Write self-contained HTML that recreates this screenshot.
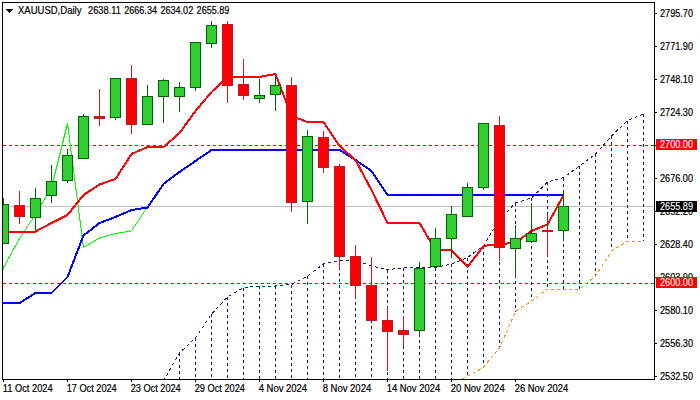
<!DOCTYPE html><html><head><meta charset="utf-8"><style>
html,body{margin:0;padding:0;background:#fff;}
body{width:700px;height:400px;position:relative;overflow:hidden;}
text{font-family:"Liberation Sans",sans-serif;font-size:10px;fill:#000;stroke:#000;stroke-width:0.2px;}
</style></head><body>
<svg width="700" height="400" viewBox="0 0 700 400" style="position:absolute;left:0;top:0">
<defs><clipPath id="cp"><rect x="3" y="3" width="651" height="376"/></clipPath></defs>
<g clip-path="url(#cp)" shape-rendering="crispEdges" fill="none">
<line x1="3" y1="206.5" x2="654" y2="206.5" stroke="#c0c0c0" stroke-width="1"/>
<line x1="3" y1="145.5" x2="654" y2="145.5" stroke="#ff0000" stroke-width="1" stroke-dasharray="3 3"/>
<line x1="3" y1="283.5" x2="654" y2="283.5" stroke="#ff0000" stroke-width="1" stroke-dasharray="3 3"/>
<line x1="163.5" y1="381" x2="163.5" y2="400" stroke="#191970" stroke-width="1" stroke-dasharray="3 3"/>
<line x1="179.5" y1="353" x2="179.5" y2="400" stroke="#191970" stroke-width="1" stroke-dasharray="3 3"/>
<line x1="195.5" y1="338" x2="195.5" y2="400" stroke="#191970" stroke-width="1" stroke-dasharray="3 3"/>
<line x1="211.5" y1="314" x2="211.5" y2="400" stroke="#191970" stroke-width="1" stroke-dasharray="3 3"/>
<line x1="227.5" y1="297" x2="227.5" y2="400" stroke="#191970" stroke-width="1" stroke-dasharray="3 3"/>
<line x1="243.5" y1="287.5" x2="243.5" y2="400" stroke="#191970" stroke-width="1" stroke-dasharray="3 3"/>
<line x1="259.5" y1="286" x2="259.5" y2="400" stroke="#191970" stroke-width="1" stroke-dasharray="3 3"/>
<line x1="275.5" y1="286" x2="275.5" y2="400" stroke="#191970" stroke-width="1" stroke-dasharray="3 3"/>
<line x1="291.5" y1="284.5" x2="291.5" y2="400" stroke="#191970" stroke-width="1" stroke-dasharray="3 3"/>
<line x1="307.5" y1="276" x2="307.5" y2="400" stroke="#191970" stroke-width="1" stroke-dasharray="3 3"/>
<line x1="323.5" y1="264" x2="323.5" y2="400" stroke="#191970" stroke-width="1" stroke-dasharray="3 3"/>
<line x1="339.5" y1="260.5" x2="339.5" y2="400" stroke="#191970" stroke-width="1" stroke-dasharray="3 3"/>
<line x1="355.5" y1="260" x2="355.5" y2="400" stroke="#191970" stroke-width="1" stroke-dasharray="3 3"/>
<line x1="371.5" y1="266" x2="371.5" y2="400" stroke="#191970" stroke-width="1" stroke-dasharray="3 3"/>
<line x1="387.5" y1="269.5" x2="387.5" y2="400" stroke="#191970" stroke-width="1" stroke-dasharray="3 3"/>
<line x1="403.5" y1="268" x2="403.5" y2="400" stroke="#191970" stroke-width="1" stroke-dasharray="3 3"/>
<line x1="419.5" y1="267.5" x2="419.5" y2="400" stroke="#191970" stroke-width="1" stroke-dasharray="3 3"/>
<line x1="435.5" y1="267.5" x2="435.5" y2="400" stroke="#191970" stroke-width="1" stroke-dasharray="3 3"/>
<line x1="451.5" y1="264" x2="451.5" y2="384" stroke="#191970" stroke-width="1" stroke-dasharray="3 3"/>
<line x1="467.5" y1="257.5" x2="467.5" y2="376.5" stroke="#191970" stroke-width="1" stroke-dasharray="3 3"/>
<line x1="483.5" y1="245.5" x2="483.5" y2="367" stroke="#191970" stroke-width="1" stroke-dasharray="3 3"/>
<line x1="499.5" y1="220" x2="499.5" y2="348" stroke="#191970" stroke-width="1" stroke-dasharray="3 3"/>
<line x1="515.5" y1="203" x2="515.5" y2="311.5" stroke="#191970" stroke-width="1" stroke-dasharray="3 3"/>
<line x1="531.5" y1="198" x2="531.5" y2="301" stroke="#191970" stroke-width="1" stroke-dasharray="3 3"/>
<line x1="547.5" y1="182" x2="547.5" y2="289" stroke="#191970" stroke-width="1" stroke-dasharray="3 3"/>
<line x1="563.5" y1="177.5" x2="563.5" y2="289" stroke="#191970" stroke-width="1" stroke-dasharray="3 3"/>
<line x1="579.5" y1="166" x2="579.5" y2="289" stroke="#191970" stroke-width="1" stroke-dasharray="3 3"/>
<line x1="595.5" y1="154" x2="595.5" y2="276" stroke="#191970" stroke-width="1" stroke-dasharray="3 3"/>
<line x1="611.5" y1="136" x2="611.5" y2="251" stroke="#191970" stroke-width="1" stroke-dasharray="3 3"/>
<line x1="627.5" y1="120.5" x2="627.5" y2="241" stroke="#191970" stroke-width="1" stroke-dasharray="3 3"/>
<line x1="643.5" y1="114" x2="643.5" y2="241" stroke="#191970" stroke-width="1" stroke-dasharray="3 3"/>
<polyline points="163.5,381 179.5,353 195.5,338 211.5,314 227.5,297 243.5,287.5 259.5,286 275.5,286 291.5,284.5 307.5,276 323.5,264 339.5,260.5 355.5,260 371.5,266 387.5,269.5 403.5,268 419.5,267.5 435.5,267.5 451.5,264 467.5,257.5 483.5,245.5 499.5,220 515.5,203 531.5,198 547.5,182 563.5,177.5 579.5,166 595.5,154 611.5,136 627.5,120.5 643.5,114" stroke="#191970" stroke-width="1" stroke-dasharray="3 3" stroke-linejoin="round"/>
<polyline points="451.5,384 467.5,376.5 483.5,367 499.5,348 515.5,311.5 531.5,301 547.5,289 563.5,289 579.5,289 595.5,276 611.5,251 627.5,241 643.5,241" stroke="#ff8c00" stroke-width="1" stroke-dasharray="3 3" stroke-linejoin="round"/>
<polyline points="-12.5,334 3.5,267.5 19.5,238.5 35.5,214.5 51.5,187.5 67.5,123.5 83.5,247.5 99.5,238 115.5,233.5 131.5,231 147.5,207" stroke="#00ff00" stroke-width="1" stroke-linejoin="round"/>
<polyline points="-12.5,303 3.5,303 19.5,303 35.5,293 51.5,293 67.5,277 83.5,235.5 99.5,223 115.5,217 131.5,210 147.5,207.5 163.5,184 179.5,172 195.5,161 211.5,150 227.5,150 243.5,150 259.5,150 275.5,150 291.5,150 307.5,150 323.5,150 339.5,150 355.5,160 371.5,171 387.5,195 403.5,195 419.5,195 435.5,195 451.5,195 467.5,195 483.5,195 499.5,195 515.5,195 531.5,195 547.5,195 563.5,195" stroke="#0000ff" stroke-width="2" stroke-linejoin="round"/>
<polyline points="-12.5,231.5 3.5,231.5 19.5,231.5 35.5,231.5 51.5,223 67.5,215 83.5,195 99.5,184.5 115.5,179 131.5,154 147.5,147 163.5,147 179.5,133 195.5,111 211.5,92 227.5,77 243.5,77 259.5,77 275.5,74 291.5,116 307.5,122 323.5,122 339.5,146 355.5,160 371.5,190 387.5,223 403.5,223 419.5,223 435.5,250 451.5,250 467.5,267 483.5,246 499.5,244 515.5,243 531.5,231 547.5,224.5 563.5,195.5" stroke="#ff0000" stroke-width="2" stroke-linejoin="round"/>
<rect x="3" y="198" width="1" height="46" fill="#006400"/>
<rect x="-2" y="204" width="11" height="40" fill="#006400"/>
<rect x="-1" y="205" width="9" height="38" fill="#32cd32"/>
<rect x="19" y="191" width="1" height="33" fill="#b81c28"/>
<rect x="14" y="205" width="11" height="12" fill="#b81c28"/>
<rect x="15" y="206" width="9" height="10" fill="#ff0000"/>
<rect x="35" y="188" width="1" height="43" fill="#006400"/>
<rect x="30" y="198" width="11" height="20" fill="#006400"/>
<rect x="31" y="199" width="9" height="18" fill="#32cd32"/>
<rect x="51" y="165" width="1" height="38" fill="#006400"/>
<rect x="46" y="181" width="11" height="15" fill="#006400"/>
<rect x="47" y="182" width="9" height="13" fill="#32cd32"/>
<rect x="67" y="149" width="1" height="34" fill="#006400"/>
<rect x="62" y="155" width="11" height="26" fill="#006400"/>
<rect x="63" y="156" width="9" height="24" fill="#32cd32"/>
<rect x="83" y="114" width="1" height="45" fill="#006400"/>
<rect x="78" y="116" width="11" height="43" fill="#006400"/>
<rect x="79" y="117" width="9" height="41" fill="#32cd32"/>
<rect x="99" y="89" width="1" height="37" fill="#b81c28"/>
<rect x="94" y="116" width="11" height="3" fill="#b81c28"/>
<rect x="95" y="117" width="9" height="1" fill="#ff0000"/>
<rect x="115" y="78" width="1" height="42" fill="#006400"/>
<rect x="110" y="78" width="11" height="40" fill="#006400"/>
<rect x="111" y="79" width="9" height="38" fill="#32cd32"/>
<rect x="131" y="65" width="1" height="69" fill="#b81c28"/>
<rect x="126" y="78" width="11" height="47" fill="#b81c28"/>
<rect x="127" y="79" width="9" height="45" fill="#ff0000"/>
<rect x="147" y="85" width="1" height="40" fill="#006400"/>
<rect x="142" y="96" width="11" height="29" fill="#006400"/>
<rect x="143" y="97" width="9" height="27" fill="#32cd32"/>
<rect x="163" y="79" width="1" height="44" fill="#006400"/>
<rect x="158" y="80" width="11" height="17" fill="#006400"/>
<rect x="159" y="81" width="9" height="15" fill="#32cd32"/>
<rect x="179" y="82" width="1" height="30" fill="#006400"/>
<rect x="174" y="87" width="11" height="10" fill="#006400"/>
<rect x="175" y="88" width="9" height="8" fill="#32cd32"/>
<rect x="195" y="42" width="1" height="49" fill="#006400"/>
<rect x="190" y="42" width="11" height="46" fill="#006400"/>
<rect x="191" y="43" width="9" height="44" fill="#32cd32"/>
<rect x="211" y="21" width="1" height="27" fill="#006400"/>
<rect x="206" y="25" width="11" height="19" fill="#006400"/>
<rect x="207" y="26" width="9" height="17" fill="#32cd32"/>
<rect x="227" y="21" width="1" height="82" fill="#b81c28"/>
<rect x="222" y="24" width="11" height="62" fill="#b81c28"/>
<rect x="223" y="25" width="9" height="60" fill="#ff0000"/>
<rect x="243" y="59" width="1" height="41" fill="#b81c28"/>
<rect x="238" y="84" width="11" height="12" fill="#b81c28"/>
<rect x="239" y="85" width="9" height="10" fill="#ff0000"/>
<rect x="259" y="79" width="1" height="24" fill="#006400"/>
<rect x="254" y="95" width="11" height="4" fill="#006400"/>
<rect x="255" y="96" width="9" height="2" fill="#32cd32"/>
<rect x="275" y="75" width="1" height="36" fill="#006400"/>
<rect x="270" y="85" width="11" height="10" fill="#006400"/>
<rect x="271" y="86" width="9" height="8" fill="#32cd32"/>
<rect x="291" y="77" width="1" height="135" fill="#b81c28"/>
<rect x="286" y="85" width="11" height="118" fill="#b81c28"/>
<rect x="287" y="86" width="9" height="116" fill="#ff0000"/>
<rect x="307" y="130" width="1" height="94" fill="#006400"/>
<rect x="302" y="136" width="11" height="66" fill="#006400"/>
<rect x="303" y="137" width="9" height="64" fill="#32cd32"/>
<rect x="323" y="131" width="1" height="42" fill="#b81c28"/>
<rect x="318" y="137" width="11" height="31" fill="#b81c28"/>
<rect x="319" y="138" width="9" height="29" fill="#ff0000"/>
<rect x="339" y="164" width="1" height="105" fill="#b81c28"/>
<rect x="334" y="166" width="11" height="91" fill="#b81c28"/>
<rect x="335" y="167" width="9" height="89" fill="#ff0000"/>
<rect x="355" y="245" width="1" height="53" fill="#b81c28"/>
<rect x="350" y="256" width="11" height="30" fill="#b81c28"/>
<rect x="351" y="257" width="9" height="28" fill="#ff0000"/>
<rect x="371" y="257" width="1" height="64" fill="#b81c28"/>
<rect x="366" y="285" width="11" height="36" fill="#b81c28"/>
<rect x="367" y="286" width="9" height="34" fill="#ff0000"/>
<rect x="387" y="307" width="1" height="64" fill="#b81c28"/>
<rect x="382" y="320" width="11" height="12" fill="#b81c28"/>
<rect x="383" y="321" width="9" height="10" fill="#ff0000"/>
<rect x="403" y="316" width="1" height="30" fill="#b81c28"/>
<rect x="398" y="330" width="11" height="5" fill="#b81c28"/>
<rect x="399" y="331" width="9" height="3" fill="#ff0000"/>
<rect x="419" y="262" width="1" height="74" fill="#006400"/>
<rect x="414" y="268" width="11" height="63" fill="#006400"/>
<rect x="415" y="269" width="9" height="61" fill="#32cd32"/>
<rect x="435" y="228" width="1" height="42" fill="#006400"/>
<rect x="430" y="238" width="11" height="29" fill="#006400"/>
<rect x="431" y="239" width="9" height="27" fill="#32cd32"/>
<rect x="451" y="206" width="1" height="52" fill="#006400"/>
<rect x="446" y="214" width="11" height="25" fill="#006400"/>
<rect x="447" y="215" width="9" height="23" fill="#32cd32"/>
<rect x="467" y="183" width="1" height="34" fill="#006400"/>
<rect x="462" y="187" width="11" height="30" fill="#006400"/>
<rect x="463" y="188" width="9" height="28" fill="#32cd32"/>
<rect x="483" y="123" width="1" height="67" fill="#006400"/>
<rect x="478" y="123" width="11" height="65" fill="#006400"/>
<rect x="479" y="124" width="9" height="63" fill="#32cd32"/>
<rect x="499" y="116" width="1" height="145" fill="#b81c28"/>
<rect x="494" y="125" width="11" height="123" fill="#b81c28"/>
<rect x="495" y="126" width="9" height="121" fill="#ff0000"/>
<rect x="515" y="225" width="1" height="52" fill="#006400"/>
<rect x="510" y="238" width="11" height="11" fill="#006400"/>
<rect x="511" y="239" width="9" height="9" fill="#32cd32"/>
<rect x="531" y="203" width="1" height="39" fill="#006400"/>
<rect x="526" y="233" width="11" height="9" fill="#006400"/>
<rect x="527" y="234" width="9" height="7" fill="#32cd32"/>
<rect x="547" y="213" width="1" height="43" fill="#b81c28"/>
<rect x="542" y="230" width="11" height="2" fill="#b81c28"/>
<rect x="563" y="191" width="1" height="48" fill="#006400"/>
<rect x="558" y="206" width="11" height="25" fill="#006400"/>
<rect x="559" y="207" width="9" height="23" fill="#32cd32"/>
</g>
<g shape-rendering="crispEdges" fill="#000">
<rect x="2" y="2" width="653" height="1"/>
<rect x="2" y="2" width="1" height="378"/>
<rect x="654" y="2" width="1" height="378"/>
<rect x="2" y="379" width="653" height="1"/>
<rect x="3" y="380" width="1" height="2"/>
<rect x="67" y="380" width="1" height="2"/>
<rect x="131" y="380" width="1" height="2"/>
<rect x="195" y="380" width="1" height="2"/>
<rect x="259" y="380" width="1" height="2"/>
<rect x="323" y="380" width="1" height="2"/>
<rect x="387" y="380" width="1" height="2"/>
<rect x="451" y="380" width="1" height="2"/>
<rect x="515" y="380" width="1" height="2"/>
<rect x="655" y="13" width="2" height="1"/>
<rect x="655" y="46" width="2" height="1"/>
<rect x="655" y="79" width="2" height="1"/>
<rect x="655" y="112" width="2" height="1"/>
<rect x="655" y="145" width="2" height="1"/>
<rect x="655" y="178" width="2" height="1"/>
<rect x="655" y="211" width="2" height="1"/>
<rect x="655" y="244" width="2" height="1"/>
<rect x="655" y="277" width="2" height="1"/>
<rect x="655" y="310" width="2" height="1"/>
<rect x="655" y="343" width="2" height="1"/>
<rect x="655" y="376" width="2" height="1"/>
<rect x="6" y="9" width="7" height="1"/><rect x="7" y="10" width="5" height="1"/><rect x="8" y="11" width="3" height="1"/><rect x="9" y="12" width="1" height="1"/>
</g>
<text x="660" y="17" textLength="33" lengthAdjust="spacingAndGlyphs">2795.70</text>
<text x="660" y="50" textLength="33" lengthAdjust="spacingAndGlyphs">2771.90</text>
<text x="660" y="83" textLength="33" lengthAdjust="spacingAndGlyphs">2748.10</text>
<text x="660" y="116" textLength="33" lengthAdjust="spacingAndGlyphs">2724.30</text>
<text x="660" y="182" textLength="33" lengthAdjust="spacingAndGlyphs">2676.00</text>
<text x="660" y="215" textLength="33" lengthAdjust="spacingAndGlyphs">2652.20</text>
<text x="660" y="248" textLength="33" lengthAdjust="spacingAndGlyphs">2628.40</text>
<text x="660" y="281" textLength="33" lengthAdjust="spacingAndGlyphs">2603.90</text>
<text x="660" y="314" textLength="33" lengthAdjust="spacingAndGlyphs">2580.10</text>
<text x="660" y="347" textLength="33" lengthAdjust="spacingAndGlyphs">2556.30</text>
<text x="660" y="380" textLength="33" lengthAdjust="spacingAndGlyphs">2532.50</text>
<text x="2.7" y="392" textLength="50" lengthAdjust="spacingAndGlyphs">11 Oct 2024</text>
<text x="66.7" y="392" textLength="50" lengthAdjust="spacingAndGlyphs">17 Oct 2024</text>
<text x="130.7" y="392" textLength="50" lengthAdjust="spacingAndGlyphs">23 Oct 2024</text>
<text x="194.7" y="392" textLength="50.3" lengthAdjust="spacingAndGlyphs">29 Oct 2024</text>
<text x="258.7" y="392" textLength="48.3" lengthAdjust="spacingAndGlyphs">4 Nov 2024</text>
<text x="322.7" y="392" textLength="48.5" lengthAdjust="spacingAndGlyphs">8 Nov 2024</text>
<text x="386.7" y="392" textLength="53.5" lengthAdjust="spacingAndGlyphs">14 Nov 2024</text>
<text x="450.7" y="392" textLength="54" lengthAdjust="spacingAndGlyphs">20 Nov 2024</text>
<text x="514.7" y="392" textLength="53.5" lengthAdjust="spacingAndGlyphs">26 Nov 2024</text>
<text x="18" y="14" textLength="63.4" lengthAdjust="spacingAndGlyphs">XAUUSD,Daily</text>
<text x="88.0" y="14" textLength="32.8" lengthAdjust="spacingAndGlyphs">2638.11</text>
<text x="124.2" y="14" textLength="32.8" lengthAdjust="spacingAndGlyphs">2666.34</text>
<text x="160.4" y="14" textLength="32.8" lengthAdjust="spacingAndGlyphs">2634.02</text>
<text x="196.60000000000002" y="14" textLength="32.8" lengthAdjust="spacingAndGlyphs">2655.89</text>
<rect x="656" y="139" width="41" height="11" fill="#ff0000" shape-rendering="crispEdges"/>
<rect x="656" y="277" width="41" height="11" fill="#ff0000" shape-rendering="crispEdges"/>
<rect x="656" y="201" width="41" height="11" fill="#000" shape-rendering="crispEdges"/>
<text x="660" y="148" textLength="33" lengthAdjust="spacingAndGlyphs" style="fill:#fff;stroke:#fff;stroke-width:0.1px">2700.00</text>
<text x="660" y="286" textLength="33" lengthAdjust="spacingAndGlyphs" style="fill:#fff;stroke:#fff;stroke-width:0.1px">2600.00</text>
<text x="660" y="210" textLength="33" lengthAdjust="spacingAndGlyphs" style="fill:#fff;stroke:#fff;stroke-width:0.1px">2655.89</text>
</svg>
</body></html>
